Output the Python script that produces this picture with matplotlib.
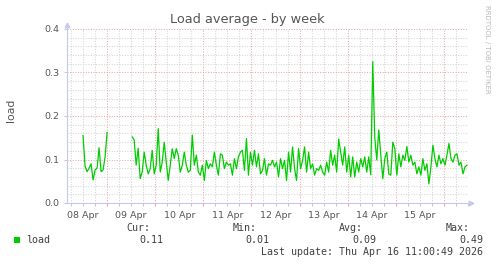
import datetime as dt
import matplotlib
matplotlib.use('Agg')
import matplotlib.pyplot as plt
import matplotlib.dates as mdates
from matplotlib.ticker import MultipleLocator, NullFormatter, FuncFormatter
from matplotlib.patches import Rectangle
from matplotlib.lines import Line2D

# --- data -------------------------------------------------------------
# first chunk: hourly from 08 Apr 12:00
seg1_start = dt.datetime(2026, 4, 8, 12, 0)
seg1_load = [0.155, 0.085, 0.072, 0.080, 0.090, 0.053, 0.076, 0.080, 0.127,
             0.072, 0.076, 0.106, 0.162]

# second chunk: hourly from 09 Apr 12:30
seg2_start = dt.datetime(2026, 4, 9, 12, 30)
seg2_load = [
    0.152, 0.145, 0.087, 0.126, 0.056, 0.071, 0.117, 0.087, 0.067, 0.079,
    0.121, 0.067, 0.087, 0.171, 0.071, 0.094, 0.140, 0.094, 0.052, 0.087,
    0.125, 0.102, 0.125, 0.110, 0.071, 0.087, 0.117, 0.087, 0.071, 0.075,
    0.156, 0.087, 0.110, 0.071, 0.064, 0.087, 0.052, 0.098, 0.079, 0.090,
    0.083, 0.117, 0.087, 0.064, 0.113, 0.110, 0.079, 0.094, 0.087, 0.090,
    0.064, 0.102, 0.079, 0.106, 0.117,
    0.121, 0.075, 0.148, 0.064, 0.117, 0.087, 0.121, 0.083, 0.113, 0.067,
    0.075, 0.102, 0.064, 0.090, 0.087, 0.098, 0.083, 0.094, 0.060, 0.102,
    0.079, 0.098, 0.052, 0.117, 0.071, 0.129, 0.079, 0.052, 0.125, 0.079,
    0.098, 0.129, 0.071, 0.117, 0.079, 0.090, 0.064, 0.079, 0.075, 0.087,
    0.071, 0.064, 0.094, 0.071, 0.121, 0.087, 0.110, 0.071, 0.147, 0.117,
    0.087, 0.129, 0.071, 0.110, 0.060,
    0.106, 0.060, 0.094, 0.071, 0.102, 0.083, 0.106, 0.071, 0.106, 0.065,
    0.325, 0.150, 0.099, 0.168, 0.110, 0.056, 0.102, 0.117, 0.067, 0.064,
    0.140, 0.125, 0.064, 0.113, 0.083, 0.110, 0.098, 0.130, 0.094, 0.110,
    0.087, 0.094, 0.067, 0.083, 0.064, 0.102, 0.075, 0.090, 0.044, 0.083,
    0.133, 0.102, 0.083, 0.110, 0.090, 0.102, 0.087, 0.110, 0.137, 0.102,
    0.094, 0.110, 0.113, 0.087, 0.094, 0.067, 0.083, 0.087,
]

legend_heads = ['Cur:', 'Min:', 'Avg:', 'Max:']
legend_vals = ['0.11', '0.01', '0.09', '0.49']
series_name = 'load'
last_update = 'Last update: Thu Apr 16 11:00:49 2026'

t1 = [seg1_start + dt.timedelta(hours=i) for i in range(len(seg1_load))]
t2 = [seg2_start + dt.timedelta(hours=i) for i in range(len(seg2_load))]

# --- figure -----------------------------------------------------------
W, H = 497, 264
fig = plt.figure(figsize=(W / 100, H / 100), dpi=100, facecolor='white')

def fx(px):
    return px / W

def fy(py):
    return 1 - py / H

ax = fig.add_axes([fx(67), fy(203), fx(401), (203 - 29) / H])
ax.set_facecolor('white')

ax.plot(t1, seg1_load, color='#00cc00', lw=0.9)
ax.plot(t2, seg2_load, color='#00cc00', lw=0.9)

t_end = dt.datetime(2026, 4, 16, 12, 0)
ax.set_xlim(dt.datetime(2026, 4, 8, 4, 0), t_end)
ax.set_ylim(0, 0.4)

for s in ax.spines.values():
    s.set_visible(False)


def day_label(v, p):
    d = mdates.num2date(v).replace(tzinfo=None)
    if d.hour == 12 and d < t_end:
        return d.strftime('%d Apr')
    return ''


ax.xaxis.set_major_locator(mdates.HourLocator(byhour=[0]))
ax.xaxis.set_minor_locator(mdates.HourLocator(byhour=[6, 12, 18]))
ax.xaxis.set_major_formatter(NullFormatter())
ax.xaxis.set_minor_formatter(FuncFormatter(day_label))

ax.yaxis.set_major_locator(MultipleLocator(0.1))
ax.yaxis.set_minor_locator(MultipleLocator(0.02))
ax.yaxis.set_major_formatter(FuncFormatter(lambda v, p: f'{v:.1f}'))

ax.grid(which='major', color='#e8a8a8', lw=0.75, ls=(0, (1, 1.5)))
ax.grid(which='minor', color='#d4d4d4', lw=0.75, ls=(0, (1, 1.5)))
ax.set_axisbelow(True)

ax.tick_params(axis='x', which='major', length=2, color='#e8a0a0', width=0.75)
ax.tick_params(axis='x', which='minor', length=2, color='#c8c8c8', width=0.75,
               pad=4, labelsize=6.8, labelcolor='#555555')
ax.tick_params(axis='y', which='major', length=2, color='#c8c8c8', width=0.75,
               pad=3.5, labelsize=6.8, labelcolor='#555555')
ax.tick_params(axis='y', which='minor', length=0)

# axis lines with arrows
axcol = '#c4c8f4'
fig.add_artist(Line2D([fx(67), fx(67)], [fy(203), fy(26)], color=axcol, lw=0.8))
fig.add_artist(Line2D([fx(67), fx(470)], [fy(203), fy(203)], color=axcol, lw=0.8))
fig.add_artist(Line2D([fx(67)], [fy(24.5)], marker='^', ms=3.3, color=axcol, lw=0))
fig.add_artist(Line2D([fx(471)], [fy(203)], marker='>', ms=3.3, color=axcol, lw=0))

# titles
fig.text(fx(247.5), fy(19), 'Load average - by week', ha='center', va='center',
         fontsize=9.3, color='#555555')
fig.text(fx(11), fy(110), 'load', ha='center', va='center', rotation=90,
         fontsize=7.8, color='#555555')
fig.text(fx(487.5), fy(5), 'RRDTOOL / TOBI OETIKER', ha='center', va='top',
         rotation=270, fontsize=5.0, color='#b8b8b8')

# legend block
mono = dict(family='DejaVu Sans Mono', fontsize=7.2, color='#404040')
head_x = [150, 257, 363, 470]
val_x = [163, 269, 376, 483]
for hx, txt in zip(head_x, legend_heads):
    fig.text(fx(hx), fy(228), txt, ha='right', va='center', **mono)
for vx, txt in zip(val_x, legend_vals):
    fig.text(fx(vx), fy(240), txt, ha='right', va='center', **mono)
fig.add_artist(Rectangle((fx(14), fy(243)), fx(6), 6 / H, facecolor='#00cc00',
                         edgecolor='none', transform=fig.transFigure))
fig.text(fx(26), fy(240), series_name, ha='left', va='center', **mono)
fig.text(fx(483), fy(252), last_update, ha='right', va='center', **mono)

fig.savefig('out.png', dpi=100, facecolor='white')
